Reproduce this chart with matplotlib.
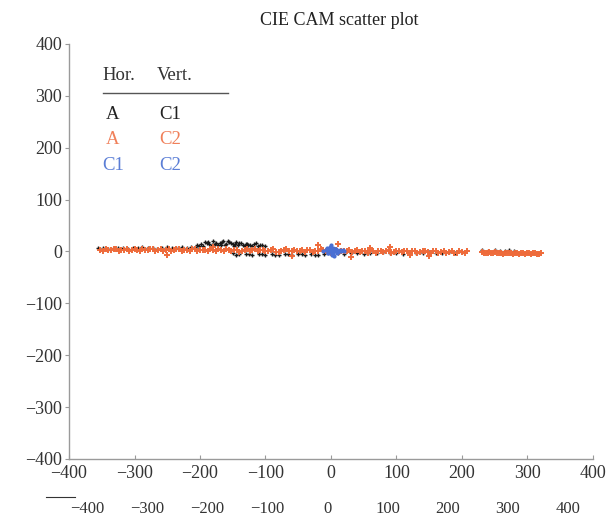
import matplotlib
matplotlib.use("Agg")
import matplotlib.pyplot as plt
from matplotlib.lines import Line2D

plt.rcParams['font.family'] = ['Liberation Serif', 'DejaVu Serif']

title = "CIE CAM scatter plot"
ticks = [-400, -300, -200, -100, 0, 100, 200, 300, 400]

# Series 1: Hor. A  vs  Vert. C1 (black)
a_c1_x = [-355, -348, -340, -332, -325, -318, -310, -302, -295, -288, -280, -272, -265, -258,
          -250, -243, -236, -228, -220, -213, -206,
          -205, -198, -192, -186, -180, -175, -170, -165, -160, -156, -150, -145, -140, -135,
          -130, -124, -118, -112, -106, -100, -195, -182, -172, -162, -152, -142, -132, -120,
          -202, -189, -177, -167, -158, -147, -137, -127, -115, -109, -188, -168, -148, -128,
          -150, -140, -130, -120, -110, -100, -90, -80, -70, -60, -50, -40, -30, -20, -10,
          -145, -125, -105, -85, -65, -45, -25,
          10, 20, 30, 40, 50, 60, 70, 80, 90, 100, 110, 120, 130, 140, 150, 160, 170, 180, 190, 200,
          230, 240, 250, 258, 265, 272, 280]
a_c1_y = [6, 7, 5, 6, 7, 6, 5, 7, 6, 8, 6, 7, 5, 6,
          8, 7, 6, 9, 7, 8, 7,
          13, 15, 18, 14, 20, 17, 16, 21, 15, 19, 14, 18, 16, 12,
          15, 13, 14, 11, 12, 10, 11, 12, 13, 12, 17, 13, 11, 10,
          10, 16, 14, 18, 20, 15, 17, 12, 16, 13, 19, 12, 11, 14,
          -3, -5, -4, -6, -5, -7, -4, -6, -5, -6, -4, -7, -5, -6, -4,
          -6, -4, -5, -7, -4, -5, -6,
          -3, -4, -2, -3, -4, -2, -3, -1, -3, -2, -4, -1, -2, -3, -1, -2, -3, -1, -2, -1,
          2, 1, 3, 0, 1, 2, 0]

# Series 2: Hor. A  vs  Vert. C2 (orange)
a_c2_x = [-352, -344, -336, -328, -320, -312, -304, -296, -288, -280, -272, -264, -256, -248,
          -240, -232, -224, -216, -208, -200, -192, -184, -176, -168, -160, -152, -144, -136,
          -128, -120, -112, -104, -96, -88, -80, -72, -64, -56, -48, -40, -32, -24, -16, -8,
          0, 8, 16, 24, 32, 40, 48, 56, 64, 72, 80, 88, 96, 104, 112, 120, 128, 136, 144, 152,
          160, 168, 176, 184, 192, 200, 208,
          -348, -340, -332, -324, -316, -308, -300, -292, -284, -276, -268, -260, -252, -244,
          -236, -228, -220, -212, -204, -196, -188, -180, -172, -164, -156, -148, -140, -132,
          -124, -116, -108, -100, -92, -84, -76, -68, -60, -52, -44, -36, -28, -20, -12, -4,
          4, 12, 20, 28, 36, 44, 52, 60, 68, 76, 84, 92, 100, 108, 116, 124, 132, 140, 148, 156,
          164, 172, 180, 188, 196, 204,
          230, 236, 242, 248, 254, 260, 266, 272, 278, 284, 290, 296, 302, 308, 314, 320,
          233, 239, 245, 251, 257, 263, 269, 275, 281, 287, 293, 299, 305, 311, 317,
          -20, 30, 90, 150, -250, 10, -60, 60, 120, -180]
a_c2_y = [3, 4, 2, 5, 3, 4, 2, 3, 5, 2, 4, 3, 1, 4,
          2, 5, 3, 1, 4, 2, 3, 5, 1, 2, 4, 0, 3, 1,
          5, 2, 0, 3, 1, 4, -1, 2, 0, 3, 1, -1, 2, 0, 4, 1,
          -2, 3, 0, 1, -1, 2, 0, -2, 1, 0, -1, 2, -1, 0, 1, -2, 0, -1, 1, -2,
          0, -1, -3, 0, -2, -1, 0,
          1, 2, 4, 1, 2, 0, 4, 1, 2, 4, 1, 5, 2, 0,
          4, 1, 2, 5, 0, 3, 1, 2, 4, 0, 2, 3, -1, 2,
          1, 4, 2, 0, 3, -1, 1, 4, 1, 0, 2, 3, -1, 0, 2, 1,
          2, -1, 1, 2, 0, -1, 1, 2, -2, 1, 0, -2, 1, -1, 0, 1, -2, 0, -1, 1,
          -2, 0, -1, -2, 0, -2,
          -1, -2, -1, -3, -2, -2, -3, -2, -4, -3, -2, -4, -3, -3, -4, -3,
          -2, -3, -2, -1, -3, -4, -2, -3, -3, -4, -3, -2, -4, -3, -4,
          12, -10, 8, -9, -6, 15, -8, 7, -7, 9]

# Series 3: Hor. C1  vs  Vert. C2 (blue)
c1_c2_x = [-12, -8, -5, -3, 0, 2, 4, 6, 8, 10, 12, 15, 18, -6, -2, 1, 3, 5, 7, -4, 0, 2, 6, 9, -1, 3, 20, 14]
c1_c2_y = [0, 2, -3, 4, 1, -2, 3, 0, 2, -1, 1, 0, 2, 6, 9, -5, 7, -8, 4, -2, 12, -6, 5, -3, 3, -4, 1, 3]

legend_header = ("Hor.", "Vert.")
legend_rows = [("A", "C1"), ("A", "C2"), ("C1", "C2")]

black = "#1a1a1a"
orange = "#EE6B3B"
blue = "#4A6FD3"
text_colors = ["#222222", "#F0805A", "#5B7ED6"]
spine_c = "#9a9a9a"

fig = plt.figure(figsize=(6.15, 5.18), dpi=100)
ax = fig.add_axes([0.1122, 0.1139, 0.852, 0.8012])

ax.plot(a_c1_x, a_c1_y, '+', ms=3.0, mew=1.0, color=black)
ax.plot(a_c2_x, a_c2_y, '+', ms=3.8, mew=1.4, color=orange)
ax.plot(c1_c2_x, c1_c2_y, 'o', ms=3.0, mew=0, color=blue)

ax.set_xlim(-400, 400)
ax.set_ylim(-400, 400)
ax.set_xticks(ticks)
ax.set_yticks(ticks)
ax.tick_params(axis='x', direction='in', length=3, color=spine_c, labelsize=13, pad=4, labelcolor="#333333")
ax.tick_params(axis='y', direction='out', length=3, color=spine_c, labelsize=13, pad=2, labelcolor="#333333")
for s in ['top', 'right']:
    ax.spines[s].set_visible(False)
for s in ['left', 'bottom']:
    ax.spines[s].set_color(spine_c)
    ax.spines[s].set_linewidth(1.0)

fig.text(0.551, 0.961, title, ha='center', va='center', fontsize=13, color="#222222")

# table-like legend
tx1, tx2 = 0.064, 0.168
lfs = 13.5
ax.text(tx1, 0.925, legend_header[0], transform=ax.transAxes, fontsize=lfs, color="#333333", va='center')
ax.text(tx2, 0.925, legend_header[1], transform=ax.transAxes, fontsize=lfs, color="#333333", va='center')
ax.add_line(Line2D([0.065, 0.303], [0.882, 0.882], transform=ax.transAxes, color="#555555", lw=1))
row_y = [0.831, 0.769, 0.706]
for (h, v), c, yy in zip(legend_rows, text_colors, row_y):
    ax.text(tx1 + (0.006 if h == "A" else 0), yy, h, transform=ax.transAxes, fontsize=lfs, color=c, va='center')
    ax.text(tx2 + 0.004, yy, v, transform=ax.transAxes, fontsize=lfs, color=c, va='center')

# secondary (duplicate) x tick row below
ax2 = fig.add_axes([0.1415, 0.032, 0.782, 0.0001])
ax2.set_xlim(-400, 400)
ax2.set_xticks(ticks)
ax2.set_yticks([])
ax2.tick_params(axis='x', length=0, labelsize=12, pad=0, labelcolor="#333333")
for s in ax2.spines.values():
    s.set_visible(False)
ax2.patch.set_visible(False)
fig.add_artist(Line2D([0.075, 0.122], [0.041, 0.041], transform=fig.transFigure, color="#333333", lw=0.8))

fig.savefig("out.png", dpi=100)
